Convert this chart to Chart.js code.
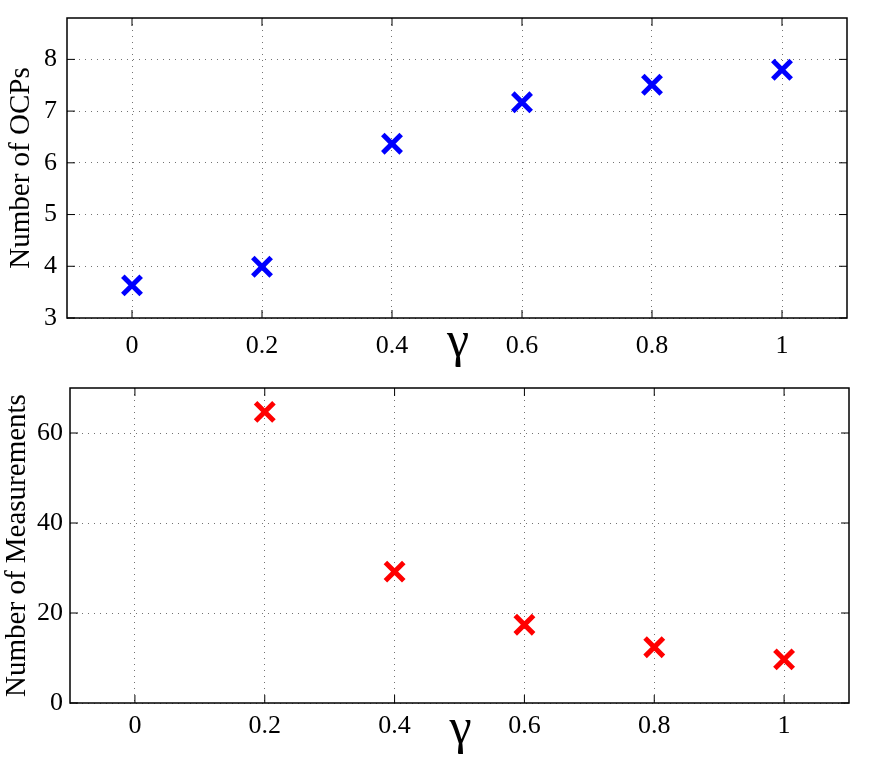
<!DOCTYPE html>
<html>
<head>
<meta charset="utf-8">
<script src="https://cdn.jsdelivr.net/npm/chart.js@4/dist/chart.umd.min.js"></script>
<style>
  html, body { margin: 0; padding: 0; background: #fff; }
  #top { position: absolute; left: 0; top: 0; }
  #bottom { position: absolute; left: 0; top: 370px; }
</style>
</head>
<body>
<canvas id="top" width="875" height="370"></canvas>
<canvas id="bottom" width="875" height="397"></canvas>
<script>
// data
const gammas = [0, 0.2, 0.4, 0.6, 0.8, 1];
const ocps = [3.63, 3.99, 6.37, 7.17, 7.51, 7.80];
const measurements = [null, 64.7, 29.2, 17.4, 12.4, 9.7];

const xTicks = [0, 0.2, 0.4, 0.6, 0.8, 1];
const ocpTicks = [3, 4, 5, 6, 7, 8];
const measTicks = [0, 20, 40, 60];

const FONT = '"Liberation Serif", "Times New Roman", serif';

// box around the axes, inward ticks on all sides, and the gamma label
const framePlugin = {
  id: 'frame',
  afterDraw(chart) {
    const { ctx, chartArea: a, scales: { x, y } } = chart;
    ctx.save();
    ctx.strokeStyle = '#000';
    ctx.lineWidth = 1.5;
    ctx.strokeRect(a.left, a.top, a.right - a.left, a.bottom - a.top);
    ctx.lineWidth = 1;
    ctx.beginPath();
    x.ticks.forEach(t => {
      const px = x.getPixelForValue(t.value);
      ctx.moveTo(px, a.bottom); ctx.lineTo(px, a.bottom - 8);
      ctx.moveTo(px, a.top); ctx.lineTo(px, a.top + 8);
    });
    y.ticks.forEach(t => {
      const py = y.getPixelForValue(t.value);
      ctx.moveTo(a.left, py); ctx.lineTo(a.left + 8, py);
      ctx.moveTo(a.right, py); ctx.lineTo(a.right - 8, py);
    });
    ctx.stroke();
    ctx.fillStyle = '#000';
    ctx.font = '50px ' + FONT;
    ctx.textAlign = 'center';
    ctx.textBaseline = 'alphabetic';
    ctx.fillText('γ', (a.left + a.right) / 2 + 1, a.bottom + chart.options.gammaOffset);
    ctx.restore();
  }
};

function makeChart(id, values, color, yMin, yMax, yTicks, yTitle, opts) {
  return new Chart(document.getElementById(id), {
    type: 'scatter',
    data: {
      datasets: [{
        data: gammas.map((g, i) => ({ x: g, y: values[i] })),
        pointStyle: 'crossRot',
        pointRadius: 13,
        pointHoverRadius: 13,
        borderColor: color,
        backgroundColor: color,
        pointBorderWidth: 5,
        showLine: false
      }]
    },
    options: {
      responsive: false,
      animation: false,
      devicePixelRatio: 1,
      gammaOffset: opts.gammaOffset,
      layout: { padding: { top: opts.top, right: opts.right, left: 0, bottom: 0 } },
      plugins: { legend: { display: false }, tooltip: { enabled: false } },
      scales: {
        x: {
          type: 'linear',
          min: -0.1,
          max: 1.1,
          afterBuildTicks: s => { s.ticks = xTicks.map(v => ({ value: v })); },
          afterFit: s => { s.height = opts.xHeight; s.paddingLeft = 0; s.paddingRight = 0; },
          grid: { color: 'rgba(0,0,0,0.55)', lineWidth: 1, drawTicks: false },
          border: { display: false, dash: [1, 5] },
          ticks: {
            color: '#000',
            padding: opts.xPad,
            maxRotation: 0,
            font: { family: FONT, size: 26 },
            callback: v => String(v)
          }
        },
        y: {
          min: yMin,
          max: yMax,
          afterBuildTicks: s => { s.ticks = yTicks.map(v => ({ value: v })); },
          afterFit: s => { s.width = opts.yWidth; s.paddingTop = 0; s.paddingBottom = 0; },
          grid: { color: 'rgba(0,0,0,0.55)', lineWidth: 1, drawTicks: false },
          border: { display: false, dash: [1, 5] },
          ticks: {
            color: '#000',
            padding: opts.yPad,
            font: { family: FONT, size: 26 },
            callback: v => String(v)
          },
          title: {
            display: true,
            text: yTitle,
            color: '#000',
            font: { family: FONT, size: 29 },
            padding: { top: opts.titlePad, bottom: 0 }
          }
        }
      }
    },
    plugins: [framePlugin]
  });
}

makeChart('top', ocps, '#0000ff', 3, 8.8, ocpTicks, 'Number of OCPs',
  { top: 16, right: 28, xHeight: 52, yWidth: 67, xPad: 13, yPad: 10, titlePad: 4, gammaOffset: 38 });
makeChart('bottom', measurements, '#ff0000', 0, 70, measTicks, 'Number of Measurements',
  { top: 13, right: 26, xHeight: 64, yWidth: 70, xPad: 8, yPad: 7, titlePad: 0, gammaOffset: 40 });
</script>
</body>
</html>
